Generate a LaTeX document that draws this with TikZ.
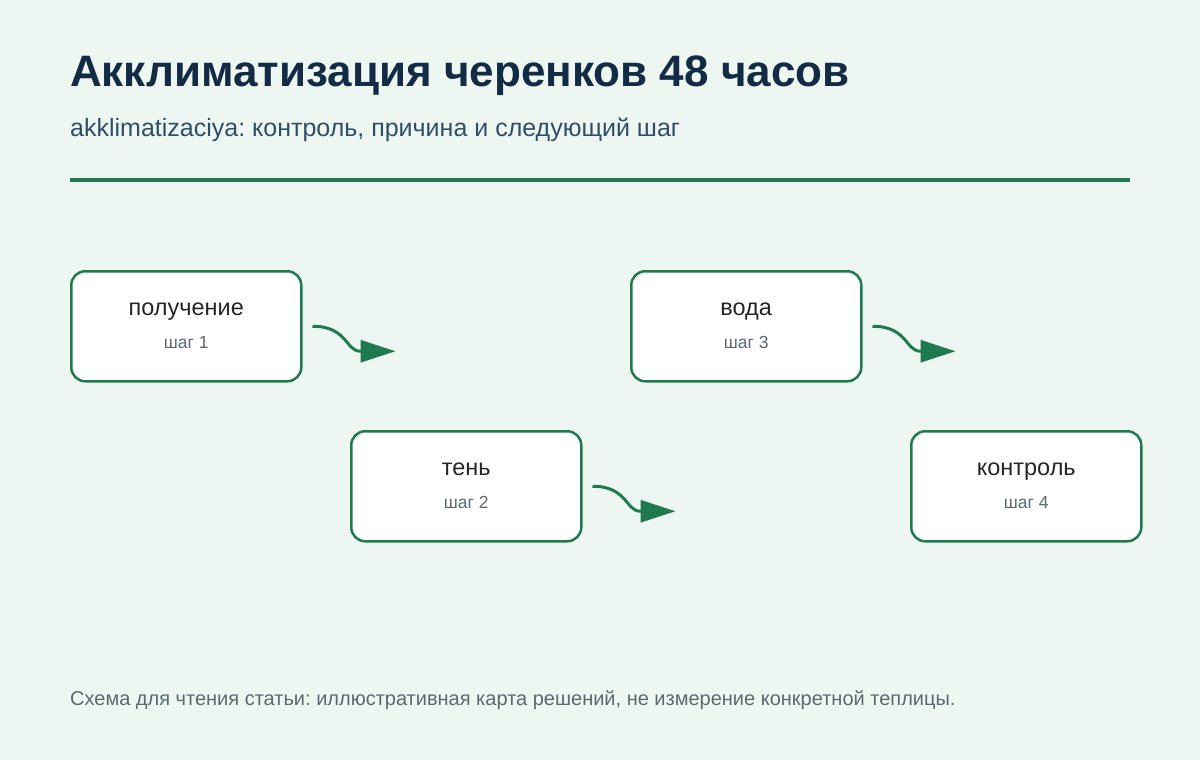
\documentclass[tikz,border=0pt]{standalone}
\usepackage{fontspec}
\setmainfont{Liberation Sans}
\frenchspacing
\usetikzlibrary{arrows.meta}
\definecolor{bg}{HTML}{EEF6F1}
\definecolor{grn}{HTML}{1F7A4F}
\definecolor{navy}{HTML}{142B45}
\definecolor{sub}{HTML}{2F4F68}
\definecolor{foot}{HTML}{5A6A70}
\begin{document}
\begin{tikzpicture}[x=1pt,y=-1pt,
  every node/.style={inner sep=0pt},
  box/.style={draw=grn,line width=2.5pt,fill=white,rounded corners=14pt,minimum width=230pt,minimum height=110pt,inner sep=0pt},
  lab/.style={font=\fontsize{23.5}{26}\selectfont,text=black!85},
  stp/.style={font=\fontsize{17.5}{20}\selectfont,text=foot},
  conn/.style={draw=grn,line width=3pt,-{Triangle[length=35pt,width=22pt]}}]
\fill[bg] (0,0) rectangle (1200,760);
\useasboundingbox (0,0) rectangle (1200,760);
\node[anchor=base west,font=\fontsize{44}{50}\selectfont\bfseries,text=navy] (title) at (70,86) {Акклиматизация черенков 48 часов};
\node[anchor=base west,font=\fontsize{25}{28}\selectfont,text=sub] (subt) at (70,136) {akklimatizaciya: контроль, причина и следующий шаг};
\draw[grn,line width=4pt] (70,180) -- (1130,180);
\foreach \n/\x/\y/\t/\s in {a/70/270/получение/шаг 1, b/350/430/тень/шаг 2, c/630/270/вода/шаг 3, d/910/430/контроль/шаг 4}{
  \node[box,anchor=north west] (\n) at (\x,\y) {};
  \node[lab,anchor=base] (\n t) at ([yshift=-45pt]\n.north) {\t};
  \node[stp,anchor=base] (\n s) at ([yshift=-78pt]\n.north) {\s};
}
\foreach \n in {a,b,c}{
  \coordinate (\n o) at ([xshift=10pt]\n.east);
  \coordinate (\n e) at ([xshift=93pt,yshift=-25pt]\n.east);
  \draw[conn] (\n o) .. controls +(35,0) and +(-15,0) .. ([xshift=-35pt]\n e) -- (\n e);
}
\node[anchor=base west,font=\fontsize{20}{24}\selectfont,text=foot] (ft) at (70,705) {Схема для чтения статьи: иллюстративная карта решений, не измерение конкретной теплицы.};
\end{tikzpicture}
\end{document}
